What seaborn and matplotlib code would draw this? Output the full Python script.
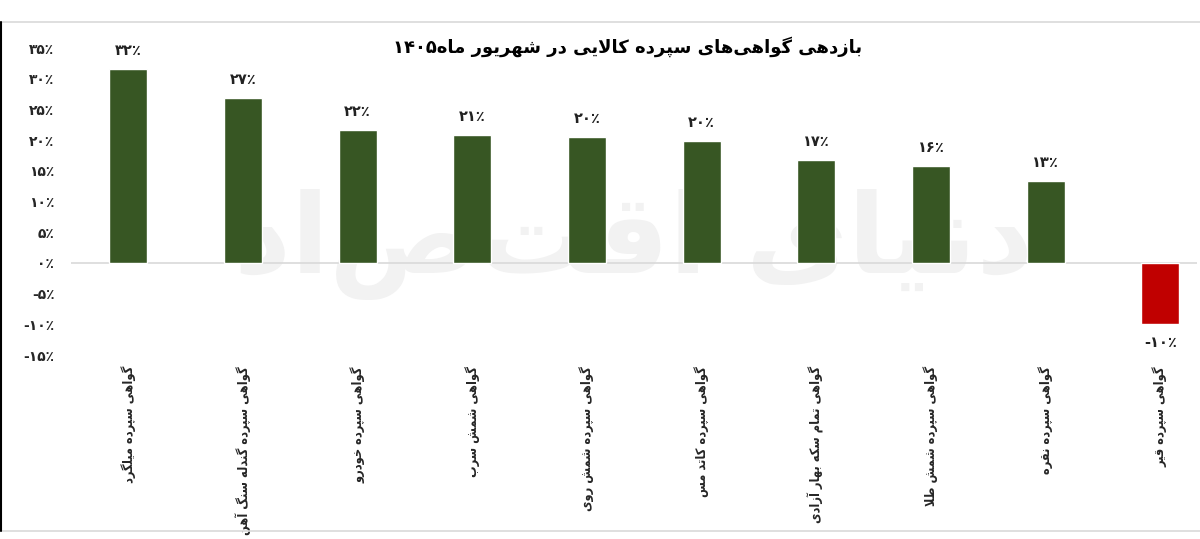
import numpy as np
import pandas as pd
import seaborn as sns
import matplotlib.pyplot as plt

# data
categories = [
    "گواهی سپرده میلگرد",
    "گواهی سپرده گندله سنگ آهن",
    "گواهی سپرده خودرو",
    "گواهی شمش سرب",
    "گواهی سپرده شمش روی",
    "گواهی سپرده کاتد مس",
    "گواهی تمام سکه بهار آزادی",
    "گواهی سپرده شمش طلا",
    "گواهی سپرده نقره",
    "گواهی سپرده قیر",
]
returns = [31.6, 26.9, 21.6, 20.8, 20.5, 19.8, 16.8, 15.8, 13.4, -10.0]
yticks = [-15, -10, -5, 0, 5, 10, 15, 20, 25, 30, 35]
title = "بازدهی گواهی‌های سپرده کالایی در شهریور ماه۱۴۰۵"

# --- tiny persian shaper (matplotlib has no arabic shaping) ---
# letter: (isolated, final, initial, medial); two entries = right-joining only
FORMS = {
    "ا": (0xFE8D, 0xFE8E), "آ": (0xFE81, 0xFE82), "د": (0xFEA9, 0xFEAA),
    "ذ": (0xFEAB, 0xFEAC), "ر": (0xFEAD, 0xFEAE), "ز": (0xFEAF, 0xFEB0),
    "و": (0xFEED, 0xFEEE),
    "ب": (0xFE8F, 0xFE90, 0xFE91, 0xFE92), "پ": (0xFB56, 0xFB57, 0xFB58, 0xFB59),
    "ت": (0xFE95, 0xFE96, 0xFE97, 0xFE98), "ج": (0xFE9D, 0xFE9E, 0xFE9F, 0xFEA0),
    "خ": (0xFEA5, 0xFEA6, 0xFEA7, 0xFEA8), "س": (0xFEB1, 0xFEB2, 0xFEB3, 0xFEB4),
    "ش": (0xFEB5, 0xFEB6, 0xFEB7, 0xFEB8), "ط": (0xFEC1, 0xFEC2, 0xFEC3, 0xFEC4),
    "ق": (0xFED5, 0xFED6, 0xFED7, 0xFED8), "ک": (0xFB8E, 0xFB8F, 0xFB90, 0xFB91),
    "گ": (0xFB92, 0xFB93, 0xFB94, 0xFB95), "ل": (0xFEDD, 0xFEDE, 0xFEDF, 0xFEE0),
    "م": (0xFEE1, 0xFEE2, 0xFEE3, 0xFEE4), "ن": (0xFEE5, 0xFEE6, 0xFEE7, 0xFEE8),
    "ه": (0xFEE9, 0xFEEA, 0xFEEB, 0xFEEC), "ی": (0xFBFC, 0xFBFD, 0xFBFE, 0xFBFF),
}
LAM_ALEF = {"ا": (0xFEFB, 0xFEFC), "آ": (0xFEF5, 0xFEF6)}


def shape(text):
    chars = list(text)
    out = []
    i = 0
    while i < len(chars):
        c = chars[i]
        if c not in FORMS:
            out.append(c)
            i += 1
            continue
        prev = chars[i - 1] if i > 0 else None
        joins_prev = prev in FORMS and len(FORMS[prev]) == 4
        if c == "ل" and i + 1 < len(chars) and chars[i + 1] in LAM_ALEF:
            out.append(chr(LAM_ALEF[chars[i + 1]][1 if joins_prev else 0]))
            i += 2
            continue
        nxt = chars[i + 1] if i + 1 < len(chars) else None
        f = FORMS[c]
        joins_next = len(f) == 4 and nxt in FORMS
        if joins_prev and joins_next:
            out.append(chr(f[3]))
        elif joins_prev:
            out.append(chr(f[1]))
        elif joins_next:
            out.append(chr(f[2]))
        else:
            out.append(chr(f[0]))
        i += 1
    out = [c for c in out if c != "\u200c"]
    # visual order: reverse, but keep digit runs left-to-right
    runs, cur = [], ""
    for c in out:
        if c.isdigit():
            cur += c
        else:
            if cur:
                runs.append(cur)
                cur = ""
            runs.append(c)
    if cur:
        runs.append(cur)
    return "".join(runs[::-1])


def fa_num(v):
    s = str(int(round(v)))
    return s.translate(str.maketrans("0123456789", "۰۱۲۳۴۵۶۷۸۹")) + "٪"


sns.set_theme(style="white")
plt.rcParams["font.family"] = ["DejaVu Sans"]

fig = plt.figure(figsize=(12, 5.39), dpi=100)
ax = fig.add_axes([71 / 1200, 1 - 355 / 539, (1197 - 71) / 1200, 307 / 539])

df = pd.DataFrame({"cat": [shape(c) for c in categories], "val": returns})
colors = ["#375623" if v >= 0 else "#C00000" for v in returns]
sns.barplot(data=df, x="cat", y="val", hue="cat", palette=colors, legend=False,
            width=0.33, saturation=1, ax=ax, zorder=3)

# faint watermark
ax.text(0.5, 0.36, shape("دنیای اقتصاد"), transform=ax.transAxes, fontsize=80,
        color="#f2f2f2", ha="center", va="center", fontweight="bold", zorder=0)

ax.set_xlim(-0.5, 9.32)
ax.set_ylim(-15, 35)
ax.set_yticks(yticks)
ax.set_yticklabels([fa_num(t) for t in yticks], fontsize=10, fontweight="bold")
ax.tick_params(axis="y", length=0, pad=12)
ax.tick_params(axis="x", length=0, pad=8)
for lab in ax.get_xticklabels():
    lab.set_rotation(90)
    lab.set_fontsize(9.2)
    lab.set_fontweight("bold")
    lab.set_fontstretch("condensed")
    lab.set_va("top")
    lab.set_ha("center")
ax.set_xlabel("")
ax.set_ylabel("")
for s in ax.spines.values():
    s.set_visible(False)
ax.axhline(0, color="#d9d9d9", lw=1.2, zorder=2)

for i, v in enumerate(returns):
    off = 1.8 if v >= 0 else -1.8
    ax.text(i, v + off, fa_num(v), ha="center", va="bottom" if v >= 0 else "top",
            fontsize=10.5, fontweight="bold", color="#222222")

fig.text(0.523, 1 - 47 / 539, shape(title), ha="center", va="center",
         fontsize=13, fontweight="bold", color="black")

# frame lines of the picture
fig.add_artist(plt.Line2D([0, 1], [1 - 22 / 539] * 2, color="#d9d9d9", lw=1.2))
fig.add_artist(plt.Line2D([0, 1], [1 - 531 / 539] * 2, color="#d9d9d9", lw=1.2))
fig.add_artist(plt.Line2D([0.001, 0.001], [1 - 531 / 539, 1 - 22 / 539], color="black", lw=1.5))

fig.savefig("out.png", dpi=100, facecolor="white")
